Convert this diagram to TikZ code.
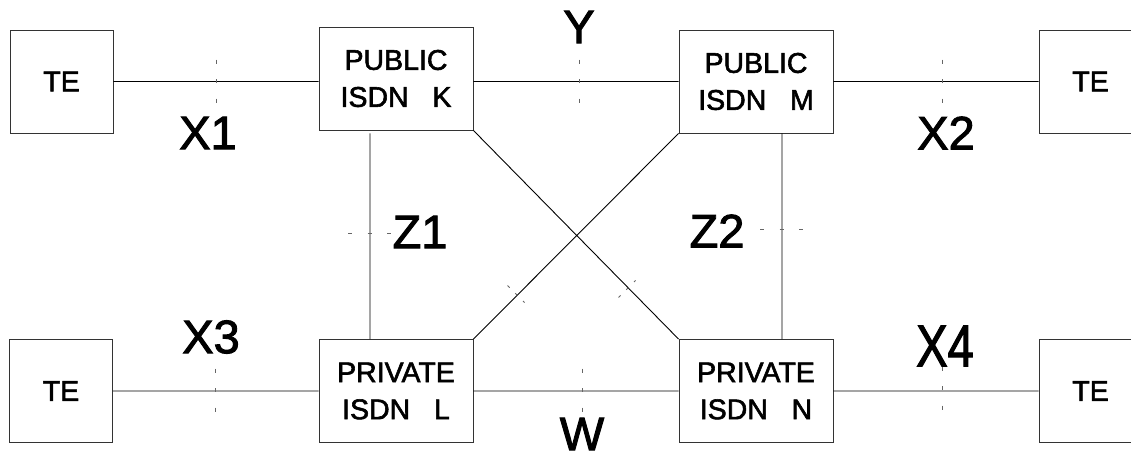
\documentclass[tikz,border=0pt]{standalone}
\usepackage{fontspec}
\setmainfont{Liberation Sans}
\newfontfamily\heavyfont[FakeBold=2]{Liberation Sans}
\usepackage{tikz}
\usetikzlibrary{calc, positioning}

\tikzset{
    unitbox/.style={draw=black!80, line width=0.9pt, minimum height=103pt, inner sep=0pt, align=center, font=\heavyfont\fontsize{28.5}{37}\selectfont},
    tebox/.style={unitbox, minimum width=103pt},
    isdnbox/.style={unitbox, minimum width=154pt},
    link/.style={line width=0.9pt},
    refpt/.style={draw=black!60, line width=0.9pt, dash pattern=on 4pt off 15.5pt},
    diagpt/.style={draw=black!60, line width=0.9pt, dash pattern=on 3pt off 8pt},
    reflabel/.style={inner sep=0pt, font=\heavyfont\fontsize{47}{50}\selectfont}
}

\begin{document}
\begin{tikzpicture}[x=1pt, y=-1pt]
                    \path[use as bounding box, fill=white] (0, 0) rectangle (1131, 459);

                    \node[tebox] (te1) at (61.5, 81.5) {TE};
                    \node[isdnbox] (k) at (396, 78.5) {PUBLIC\\ISDN\ \ \ K};
                    \node[isdnbox] (m) at (756, 81.5) {PUBLIC\\ISDN\ \ \ M};
                    \node[tebox] (te2) at (1090.5, 81.5) {TE};

                    \node[tebox] (te3) at (61, 391) {TE};
                    \node[isdnbox] (l) at (396, 391) {PRIVATE\\ISDN\ \ \ L};
                    \node[isdnbox] (n) at (756, 391) {PRIVATE\\ISDN\ \ \ N};
                    \node[tebox] (te4) at (1090.5, 391) {TE};

                    \draw[link]
                    (te1.east) -- (te1.east -| k.west)
                    (m.west -| k.east) -- (m.west)
                    (m.east) -- (te2.west)
                    (te3.east) -- (te3.east -| l.west)
                    (l.east) -- (n.west)
                    (n.east) -- (n.east -| te4.west)
                    ([xshift=-26pt, yshift=-3pt]k.south) -- ([xshift=-26pt]l.north)
                    ([xshift=26pt]m.south) -- ([xshift=26pt]n.north)
                    (k.south east) -- (n.north west)
                    (m.south west) -- (l.north east);

                    \foreach \x/\y in {216/81, 579/81, 942/81, 215/390, 582/390, 942/388} {
                        \draw[refpt] (\x, \y - 21.5) -- (\x, \y + 21.5);
                    }
                    \draw[refpt] (348, 233) -- (393, 233);
                    \draw[refpt] (760, 229) -- (805, 229);
                    \draw[diagpt] (507.5, 285.5) -- (524.5, 302.5);
                    \draw[diagpt] (618.5, 297.5) -- (635.5, 280.5);

                    \node[reflabel] (x1) at (208, 133) {X1};
                    \node[reflabel] (y) at (579, 27) {Y};
                    \node[reflabel] (x2) at (946, 133) {X2};
                    \node[reflabel] (z1) at (420, 232) {Z1};
                    \node[reflabel] (z2) at (717, 231) {Z2};
                    \node[reflabel] (x3) at (211, 337) {X3};
                    \node[reflabel] (x4) at (945, 346) {\scalebox{1}[1.25]{X4}};
                    \node[reflabel] (w) at (582, 434) {W};
                \end{tikzpicture}
\end{document}
